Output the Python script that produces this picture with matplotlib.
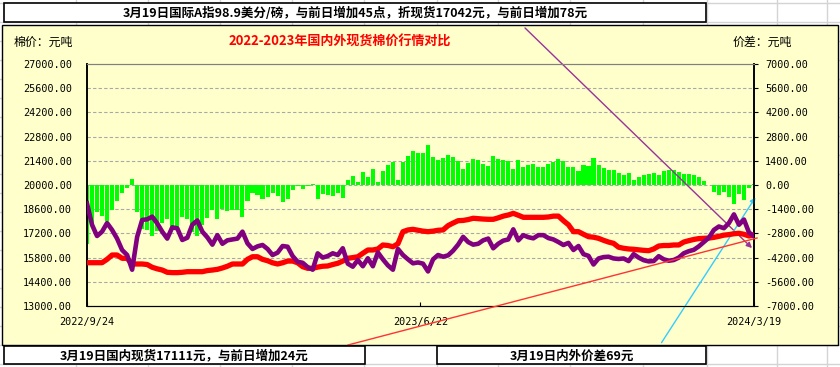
import matplotlib
matplotlib.use('Agg')
import matplotlib.pyplot as plt
from matplotlib.lines import Line2D
from matplotlib.patches import Rectangle
import numpy as np
import pandas as pd

plt.rcParams['font.family'] = ['Noto Sans CJK SC', 'DejaVu Sans']

# 数据
start_date = '2022-09-24'
end_date = '2024-03-19'
x_labels = ['2022/9/24', '2023/6/22', '2024/3/19']

# 国内现货 (元/吨)
domestic = [15505, 15505, 15505, 15505, 15700, 15950, 15950, 15760, 15760, 15430,
            15430, 15430, 15400, 15240, 15150, 15080, 14950, 14930, 14930, 14950,
            14985, 14985, 14985, 14985, 15050, 15080, 15120, 15200, 15300, 15430,
            15430, 15430, 15700, 15850, 15850, 15700, 15620, 15500, 15430, 15500,
            15600, 15600, 15500, 15275, 15180, 15180, 15250, 15300, 15315, 15400,
            15470, 15600, 15760, 15800, 15850, 16050, 16240, 16240, 16300, 16530,
            16500, 16430, 16600, 17300, 17400, 17435, 17380, 17330, 17300, 17330,
            17380, 17400, 17650, 17800, 17935, 17950, 18000, 18075, 18050, 18030,
            18015, 18015, 18100, 18200, 18265, 18360, 18250, 18130, 18130, 18130,
            18130, 18130, 18150, 18200, 18200, 17935, 17700, 17300, 17300, 17150,
            17010, 16980, 16915, 16800, 16700, 16625, 16400, 16340, 16300, 16280,
            16250, 16220, 16200, 16300, 16470, 16500, 16500, 16530, 16530, 16700,
            16780, 16850, 16900, 16915, 16930, 16970, 17030, 17100, 17130, 17180,
            17205, 17150, 17050, 17111]

# 国际A指折现货 (元/吨)
international = [18940, 17700, 17050, 17300, 17800, 17400, 16900, 16240, 15950, 15100,
                 17000, 17980, 18015, 18170, 17785, 17300, 16900, 17550, 17495, 16820,
                 16950, 17700, 17950, 17300, 16970, 16550, 17100, 16600, 16800, 16850,
                 16900, 17300, 16625, 16300, 16450, 16530, 16300, 15950, 16085, 16470,
                 16430, 15890, 15560, 15500, 15250, 15100, 16045, 15800, 15890, 16050,
                 15950, 16340, 15450, 15275, 15660, 15300, 15760, 15300, 16100, 15700,
                 15350, 15100, 16300, 15950, 15700, 15470, 15520, 15450, 15000, 15700,
                 15950, 15850, 15930, 16200, 16550, 17000, 16700, 16550, 16600, 16800,
                 16900, 16340, 16600, 16780, 16850, 17435, 16800, 17100, 16980, 16915,
                 17100, 17100, 16930, 16850, 16700, 16530, 16650, 16240, 16470, 16000,
                 15900, 15400, 15750, 15830, 15850, 15750, 15720, 15750, 15600, 16000,
                 15800, 15650, 15580, 15600, 15880, 15700, 15620, 15660, 15800, 16050,
                 16170, 16250, 16450, 16700, 16950, 17400, 17600, 17500, 17800, 18300,
                 17700, 18000, 17250, 17042]

left_ticks = [13000 + 1400 * i for i in range(11)]
right_ticks = [-7000 + 1400 * i for i in range(11)]

top_text = '3月19日国际A指98.9美分/磅，与前日增加45点，折现货17042元，与前日增加78元'
bottom_left_text = '3月19日国内现货17111元，与前日增加24元'
bottom_right_text = '3月19日内外价差69元'
title = '2022-2023年国内外现货棉价行情对比'

dates = pd.date_range(start_date, end_date, periods=len(domestic))
spread = np.array(domestic) - np.array(international)

W, H = 840, 367
fig = plt.figure(figsize=(W / 100, H / 100), dpi=100)
fig.patch.set_facecolor('white')


def fx(x):
    return x / W


def fy(y):
    return 1 - y / H


# Excel 网格背景
grid_c = '#D4D4D4'
for cx in [76, 148, 220, 292, 364, 437, 498, 570, 643, 707, 777, 827]:
    fig.add_artist(Line2D([fx(cx), fx(cx)], [0, 1], color=grid_c, lw=1, zorder=-10))
for ry in range(3, 367, 19):
    fig.add_artist(Line2D([0, 1], [fy(ry), fy(ry)], color=grid_c, lw=1, zorder=-10))

# 图表区
fig.add_artist(Rectangle((fx(2), fy(345)), fx(836), 320 / H, facecolor='#FFFFCC',
                         edgecolor='black', lw=1, zorder=-5))

# 绘图区：价差柱（右轴）
ax = fig.add_axes([fx(87), fy(306), fx(667), 242 / H])
ax.patch.set_alpha(0)
ax.bar(dates, spread, width=3.3, color='#00FF00', zorder=2)
ax.set_ylim(-7000, 7000)
for v in right_ticks[1:-1]:
    ax.axhline(v, color='#A8A8A8', lw=0.8, ls=(0, (3, 2)), zorder=1)

# 棉价线（左轴）
ax2 = ax.twinx()
ax2.plot(dates, domestic, color='#FF0000', lw=3.8, zorder=3)
ax2.plot(dates, international, color='#800080', lw=3.3, zorder=4)
ax2.set_ylim(13000, 27000)

ax.yaxis.tick_right()
ax.yaxis.set_label_position('right')
ax2.yaxis.tick_left()
ax2.yaxis.set_label_position('left')

ax.set_yticks(right_ticks)
ax.set_yticklabels([f'{v:.2f}' for v in right_ticks], family='DejaVu Sans Mono', fontsize=7.3)
ax.tick_params(axis='y', which='both', left=False, labelleft=False, right=True,
               labelright=True, direction='out', length=3, pad=5)
ax2.set_yticks(left_ticks)
ax2.set_yticklabels([f'{v:.2f}' for v in left_ticks], family='DejaVu Sans Mono', fontsize=7.3)
ax2.tick_params(axis='y', which='both', right=False, labelright=False, left=True,
                labelleft=True, direction='in', length=0, pad=11)

ax.set_xlim(dates[0], dates[-1])
tick_dates = [dates[0], dates[0] + (dates[-1] - dates[0]) / 2, dates[-1]]
ax.set_xticks(tick_dates)
ax.set_xticklabels(x_labels, family='DejaVu Sans Mono', fontsize=7.3)
ax.tick_params(axis='x', direction='in', length=3, pad=8)

for a in (ax, ax2):
    a.spines['top'].set_color('#808080')
    a.spines['left'].set_color('black')
    a.spines['right'].set_color('black')
    a.spines['bottom'].set_color('black')
    a.spines['left'].set_linewidth(1.2)
    a.spines['right'].set_linewidth(1.2)

# 标题与单位
fig.text(fx(340), fy(42), title, color='#FF0000', fontsize=9.4, fontweight='bold',
         ha='center', va='center')
fig.text(fx(14), fy(42), '棉价：元吨', fontsize=8.6, ha='left', va='center')
fig.text(fx(733), fy(42), '价差：元吨', fontsize=8.6, ha='left', va='center')

# 文本框
for (x0, y0, x1, y1), txt in [((4, 3, 706, 22), top_text),
                              ((4, 346, 365, 364), bottom_left_text),
                              ((437, 346, 706, 364), bottom_right_text)]:
    fig.add_artist(Rectangle((fx(x0), fy(y1)), fx(x1 - x0), (y1 - y0) / H,
                             facecolor='white', edgecolor='black', lw=1.2, zorder=6))
    fig.text(fx((x0 + x1) / 2), fy((y0 + y1) / 2 + 1), txt, fontsize=9.0,
             fontweight='bold', ha='center', va='center', zorder=7)

# 趋势线
fig.add_artist(Line2D([fx(348), fx(757)], [fy(345), fy(238)], color='#FF3333', lw=1, zorder=5))
ax.annotate('', xy=(fx(754), fy(250)), xytext=(fx(523), fy(26)),
            xycoords='figure fraction', textcoords='figure fraction',
            arrowprops=dict(arrowstyle='-|>', color='#993399', lw=1, mutation_scale=8),
            annotation_clip=False, zorder=5)
ax.annotate('', xy=(fx(757), fy(195)), xytext=(fx(660), fy(345)),
            xycoords='figure fraction', textcoords='figure fraction',
            arrowprops=dict(arrowstyle='-|>', color='#33CCFF', lw=1, mutation_scale=8),
            annotation_clip=False, zorder=5)

fig.savefig('out.png', dpi=100)
